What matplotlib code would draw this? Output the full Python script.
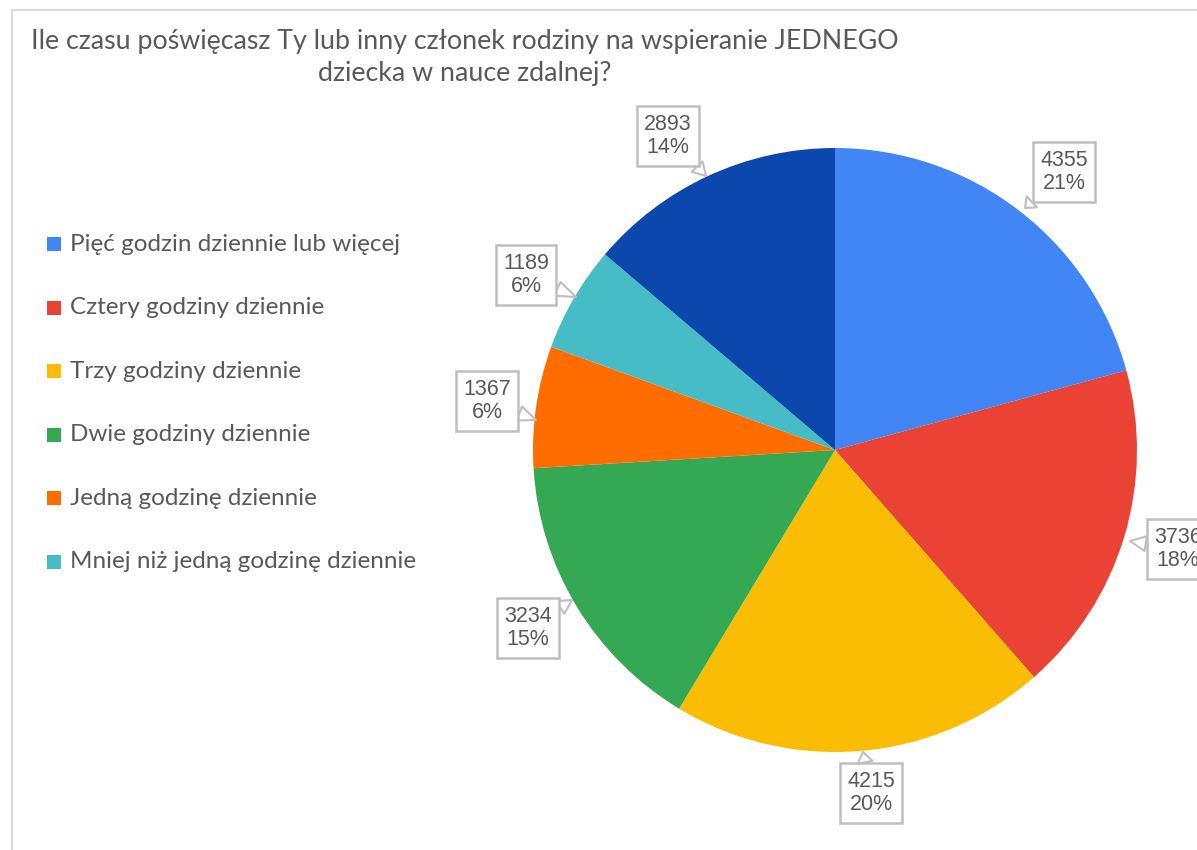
import matplotlib
matplotlib.use("Agg")
import matplotlib.pyplot as plt
from matplotlib.patches import Rectangle
from matplotlib.lines import Line2D

categories = [
    "Pięć godzin dziennie lub więcej",
    "Cztery godziny dziennie",
    "Trzy godziny dziennie",
    "Dwie godziny dziennie",
    "Jedną godzinę dziennie",
    "Mniej niż jedną godzinę dziennie",
    "Inne",
]
values = [4355, 3736, 4215, 3234, 1367, 1189, 2893]
pct_labels = ["21%", "18%", "20%", "15%", "6%", "6%", "14%"]
colors = ["#4285F4", "#EA4335", "#FBBC04", "#34A853", "#FF6D01", "#46BDC6", "#0B47AD"]
legend_count = 6
title = "Ile czasu poświęcasz Ty lub inny członek rodziny na wspieranie JEDNEGO\ndziecka w nauce zdalnej?"

W, H = 1197, 850
fig = plt.figure(figsize=(W / 100, H / 100), dpi=100)
ax = fig.add_axes([0, 0, 1, 1])

def Y(y):
    return H - y

# pie
cx, cy, R = 835, 450, 302
wedges, _ = ax.pie(values, colors=colors, startangle=90, counterclock=False,
                   center=(cx, Y(cy)), radius=R, frame=True,
                   wedgeprops=dict(linewidth=0))
ax.set_xlim(0, W)
ax.set_ylim(0, H)
ax.set_aspect("equal")
ax.axis("off")

# frame
ax.add_line(Line2D([12, 12], [Y(10), Y(H + 5)], color="#D9D9D9", lw=1.5))
ax.add_line(Line2D([12, W + 5], [Y(10), Y(10)], color="#D9D9D9", lw=1.5))

# title
ax.text(465, Y(57), title, ha="center", va="center", fontsize=19.3,
        family="Lato", color="#595959", linespacing=1.35)

# callout labels: (box center), (pointer tip)
label_pos = [(1064, 172), (1178, 549), (871, 793), (528, 628), (487, 401), (526, 275), (668, 136)]
tips = [(1025, 208), (1130, 541), (863, 752), (572, 600), (536, 420), (576, 297), (706, 176)]
for v, p, (bx, by), (tx, ty) in zip(values, pct_labels, label_pos, tips):
    ax.annotate(f"{v}\n{p}", xy=(tx, Y(ty)), xytext=(bx, Y(by)),
                ha="center", va="center", fontsize=15.5, family="Liberation Sans",
                color="#595959", linespacing=1.15,
                bbox=dict(boxstyle="square,pad=0.35", fc="white", ec="#BFBFBF", lw=1.8),
                arrowprops=dict(arrowstyle="wedge,tail_width=0.7,shrink_factor=0.5",
                                fc="white", ec="#BFBFBF", lw=1.5, shrinkA=0, shrinkB=0))

# legend
ly0, dy = 244, 63.6
for i in range(legend_count):
    y = ly0 + i * dy
    ax.add_patch(Rectangle((47, Y(y) - 7), 14, 14, color=colors[i], lw=0))
    ax.text(70, Y(y), categories[i], ha="left", va="center", fontsize=17.5,
            family="Lato", color="#595959")

fig.savefig("out.png", dpi=100)
